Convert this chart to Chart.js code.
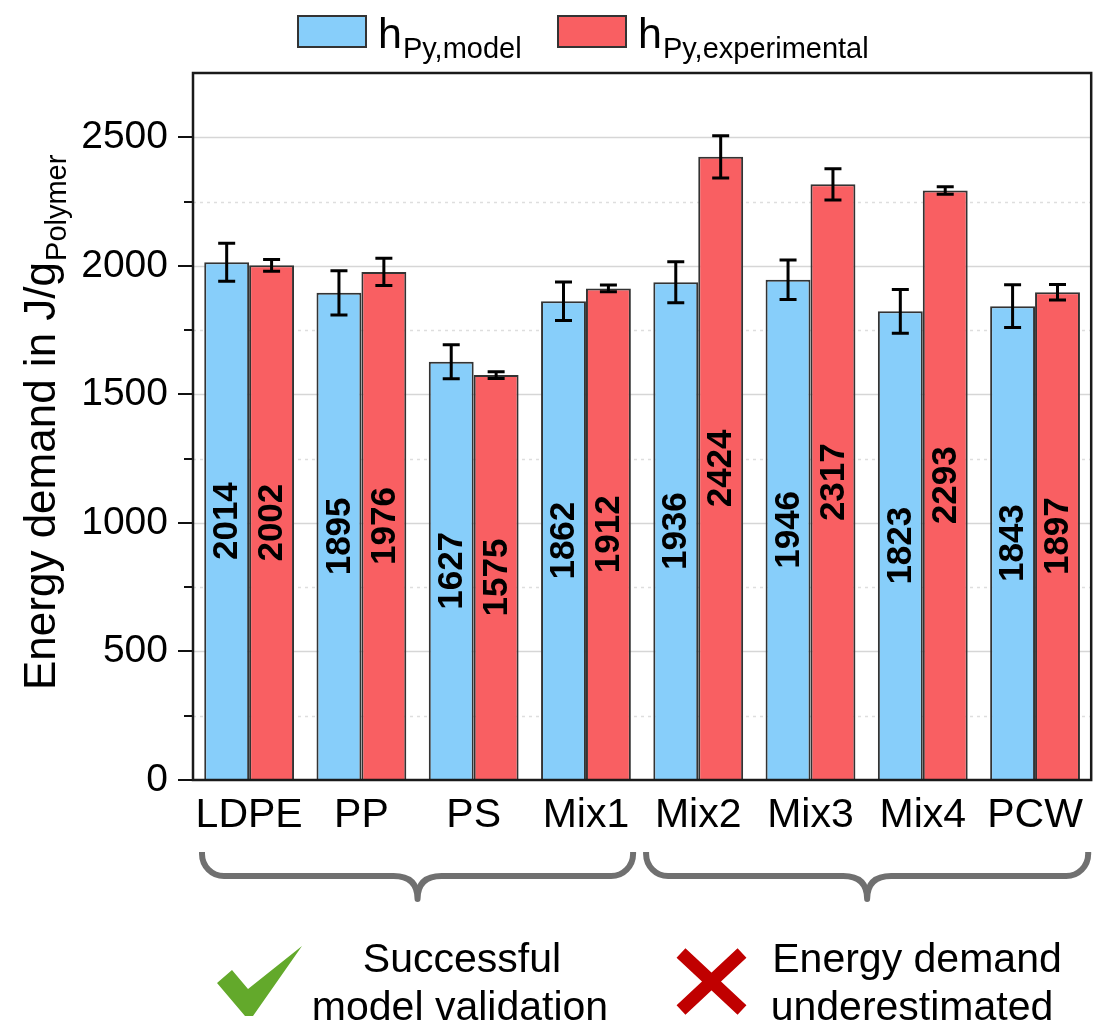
<!DOCTYPE html>
<html>
<head>
<meta charset="utf-8">
<script src="https://cdn.jsdelivr.net/npm/chart.js@4/dist/chart.umd.min.js"></script>
<style>
  html, body { margin: 0; padding: 0; background: #ffffff; }
  #wrap { width: 1094px; height: 1024px; position: relative; }
</style>
</head>
<body>
<div id="wrap"><canvas id="c" width="1094" height="1024"></canvas></div>
<script>
// Pyrolysis energy demand per polymer feedstock (J/g polymer)
const categories = ['LDPE', 'PP', 'PS', 'Mix1', 'Mix2', 'Mix3', 'Mix4', 'PCW'];
const modelValues = [2014, 1895, 1627, 1862, 1936, 1946, 1823, 1843];
const modelErrors = [74, 86, 66, 75, 80, 77, 85, 83];
const experimentalValues = [2002, 1976, 1575, 1912, 2424, 2317, 2293, 1897];
const experimentalErrors = [23, 53, 13, 13, 82, 61, 15, 30];
const yTickLabels = [0, 500, 1000, 1500, 2000, 2500];
const seriesNames = [['h', 'Py,model'], ['h', 'Py,experimental']];
const groupSpans = [[0, 3], [4, 7]];
const groupNotes = [['Successful', 'model validation'], ['Energy demand', 'underestimated']];

const FONT = "'Liberation Sans', Arial, Helvetica, sans-serif";
const BLUE = '#87cefa';
const RED = '#f95f62';
const EDGE = '#333333';

// grid lines and y tick marks behind the bars
const gridPlugin = {
  id: 'gridPlugin',
  beforeDatasetsDraw(chart) {
    const { ctx, chartArea: a, scales: { y } } = chart;
    ctx.save();
    for (let v = 250; v < y.max; v += 250) {
      const py = Math.round(y.getPixelForValue(v)) + 0.5;
      const major = v % 500 === 0;
      ctx.beginPath();
      ctx.setLineDash(major ? [] : [3, 4]);
      ctx.strokeStyle = major ? '#d6d6d6' : '#dedede';
      ctx.lineWidth = 1.5;
      ctx.moveTo(a.left, py);
      ctx.lineTo(a.right, py);
      ctx.stroke();
    }
    ctx.setLineDash([]);
    ctx.strokeStyle = '#111';
    ctx.lineWidth = 2;
    for (let v = 0; v < y.max; v += 250) {
      const py = Math.round(y.getPixelForValue(v));
      const len = v % 500 === 0 ? 15 : 9;
      ctx.beginPath();
      ctx.moveTo(a.left - len, py);
      ctx.lineTo(a.left, py);
      ctx.stroke();
    }
    ctx.restore();
  }
};

// error bars, value labels, frame, legend, axis title and group brackets
const overlayPlugin = {
  id: 'overlayPlugin',
  afterDatasetsDraw(chart) {
    const { ctx, chartArea: a, scales: { x, y } } = chart;
    const errs = [modelErrors, experimentalErrors];
    ctx.save();
    chart.data.datasets.forEach((ds, di) => {
      const meta = chart.getDatasetMeta(di);
      meta.data.forEach((bar, j) => {
        const v = ds.data[j];
        const e = errs[di][j];
        const yt = y.getPixelForValue(v + e);
        const yb = y.getPixelForValue(v - e);
        ctx.strokeStyle = '#000';
        ctx.lineWidth = 3;
        ctx.beginPath();
        ctx.moveTo(bar.x, yt); ctx.lineTo(bar.x, yb);
        ctx.moveTo(bar.x - 8.5, yt); ctx.lineTo(bar.x + 8.5, yt);
        ctx.moveTo(bar.x - 8.5, yb); ctx.lineTo(bar.x + 8.5, yb);
        ctx.stroke();

        ctx.save();
        ctx.translate(bar.x + 1, (bar.y + bar.base) / 2);
        ctx.rotate(-Math.PI / 2);
        ctx.fillStyle = '#000';
        ctx.font = 'bold 35px ' + FONT;
        ctx.textAlign = 'center';
        ctx.textBaseline = 'middle';
        ctx.fillText(String(v), 0, 0);
        ctx.restore();
      });
    });

    // plot frame
    ctx.strokeStyle = '#1a1a1a';
    ctx.lineWidth = 2.5;
    ctx.strokeRect(a.left, a.top, a.right - a.left, a.bottom - a.top);

    // legend with subscripted labels
    const legendItems = [
      { box: 298, text: 378, color: BLUE },
      { box: 558, text: 638, color: RED }
    ];
    legendItems.forEach((it, i) => {
      ctx.fillStyle = it.color;
      ctx.fillRect(it.box, 16, 68, 31);
      ctx.strokeStyle = '#333';
      ctx.lineWidth = 2;
      ctx.strokeRect(it.box, 16, 68, 31);
      ctx.fillStyle = '#000';
      ctx.textAlign = 'left';
      ctx.textBaseline = 'alphabetic';
      ctx.font = '43px ' + FONT;
      ctx.fillText(seriesNames[i][0], it.text, 48);
      const w = ctx.measureText(seriesNames[i][0]).width;
      ctx.font = '29px ' + FONT;
      ctx.fillText(seriesNames[i][1], it.text + w + 1, 58);
    });

    // y axis title
    ctx.save();
    ctx.translate(55, 690);
    ctx.rotate(-Math.PI / 2);
    ctx.fillStyle = '#000';
    ctx.textAlign = 'left';
    ctx.textBaseline = 'alphabetic';
    ctx.font = '44px ' + FONT;
    const mainTitle = 'Energy demand in J/g';
    ctx.fillText(mainTitle, 0, 0);
    const tw = ctx.measureText(mainTitle).width;
    ctx.font = '29px ' + FONT;
    ctx.fillText('Polymer', tw + 1, 11);
    ctx.restore();

    // curly brackets under the category groups
    const cw = (a.right - a.left) / categories.length;
    ctx.strokeStyle = '#707070';
    ctx.lineWidth = 6;
    ctx.lineJoin = 'round';
    const top = 852, mid = 876, tip = 899, r = 22;
    groupSpans.forEach(([i0, i1], gi) => {
      const L = x.getPixelForValue(i0) - cw / 2 + (gi === 0 ? 9 : 4);
      const R = x.getPixelForValue(i1) + cw / 2 - (gi === 0 ? 9 : 3);
      const C = (L + R) / 2;
      ctx.beginPath();
      ctx.moveTo(L, top);
      ctx.arcTo(L, mid, L + r, mid, r);
      ctx.lineTo(C - 24, mid);
      ctx.quadraticCurveTo(C, mid, C, tip);
      ctx.quadraticCurveTo(C, mid, C + 24, mid);
      ctx.lineTo(R - r, mid);
      ctx.arcTo(R, mid, R, top, r);
      ctx.lineTo(R, top);
      ctx.stroke();
    });

    // green check mark
    ctx.fillStyle = '#63a92b';
    ctx.beginPath();
    ctx.moveTo(217, 983);
    ctx.lineTo(232, 970);
    ctx.lineTo(248, 989);
    ctx.lineTo(302, 946);
    ctx.lineTo(253, 1016);
    ctx.lineTo(245, 1016);
    ctx.closePath();
    ctx.fill();

    // red cross
    ctx.strokeStyle = '#c00000';
    ctx.lineWidth = 13;
    ctx.lineCap = 'butt';
    ctx.beginPath();
    ctx.moveTo(681, 953); ctx.lineTo(742, 1010);
    ctx.moveTo(742, 953); ctx.lineTo(681, 1010);
    ctx.stroke();

    // group notes
    ctx.fillStyle = '#000';
    ctx.font = '41px ' + FONT;
    ctx.textAlign = 'center';
    ctx.textBaseline = 'alphabetic';
    ctx.fillText(groupNotes[0][0], 462, 972);
    ctx.fillText(groupNotes[0][1], 460, 1020);
    ctx.fillText(groupNotes[1][0], 917, 972);
    ctx.fillText(groupNotes[1][1], 912, 1020);
    ctx.restore();
  }
};

new Chart(document.getElementById('c'), {
  type: 'bar',
  data: {
    labels: categories,
    datasets: [
      {
        label: 'h Py,model',
        data: modelValues,
        backgroundColor: BLUE,
        borderColor: EDGE,
        borderWidth: 2,
        categoryPercentage: 0.8,
        barPercentage: 1.0
      },
      {
        label: 'h Py,experimental',
        data: experimentalValues,
        backgroundColor: RED,
        borderColor: EDGE,
        borderWidth: 2,
        categoryPercentage: 0.8,
        barPercentage: 1.0
      }
    ]
  },
  options: {
    responsive: false,
    animation: false,
    devicePixelRatio: 1,
    layout: { padding: { top: 73, right: 2, left: 0, bottom: 0 } },
    plugins: { legend: { display: false }, tooltip: { enabled: false } },
    scales: {
      x: {
        grid: { display: false, drawTicks: false },
        border: { display: false },
        ticks: { color: '#000', font: { family: FONT, size: 41 }, padding: 11, maxRotation: 0, autoSkip: false },
        afterFit(scale) { scale.height = 244; }
      },
      y: {
        min: 0,
        max: 2750,
        grid: { display: false, drawTicks: false },
        border: { display: false },
        ticks: {
          stepSize: 250,
          color: '#000',
          font: { family: FONT, size: 39 },
          padding: 25,
          callback: (v) => (yTickLabels.includes(v) ? String(v) : '')
        },
        afterFit(scale) { scale.width = 193; }
      }
    }
  },
  plugins: [gridPlugin, overlayPlugin]
});
</script>
</body>
</html>
